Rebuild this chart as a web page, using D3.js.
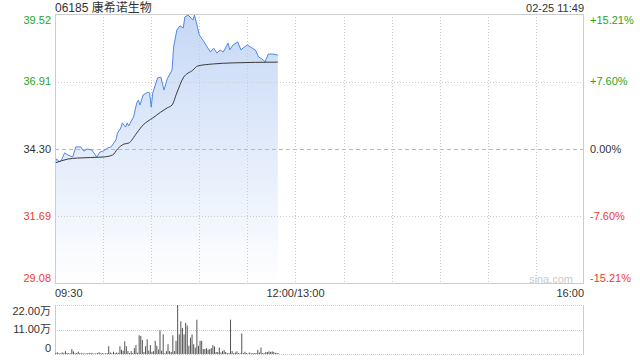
<!DOCTYPE html>
<html>
<head>
<meta charset="utf-8">
<script src="https://cdn.jsdelivr.net/npm/d3@7"></script>
<style>
  body { margin: 0; background: #fff; }
  svg { display: block; font-family: "Liberation Sans", Arial, "Noto Sans CJK SC", sans-serif; }
</style>
</head>
<body>
<svg width="640" height="360"></svg>
<script>
// chart values
const title = "06185 康希诺生物";
const stamp = "02-25 11:49";
const priceTicks = [39.52, 36.91, 34.30, 31.69, 29.08];
const pctTicks = ["+15.21%", "+7.60%", "0.00%", "-7.60%", "-15.21%"];
const timeTicks = ["09:30", "12:00/13:00", "16:00"];
const volTicks = [22, 11, 0];
const volTickLabels = ["22.00万", "11.00万", "0"];

const priceTimes = ["09:30","09:31","09:33","09:34","09:36","09:38","09:41","09:43","09:46","09:48",
  "09:50","09:53","09:56","09:58","10:00","10:03","10:05","10:08","10:09","10:11",
  "10:12","10:14","10:15","10:16","10:19","10:21","10:22","10:23","10:25","10:28",
  "10:29","10:30","10:31","10:34","10:36","10:38","10:40","10:43","10:44","10:46",
  "10:48","10:50","10:51","10:53","10:56","10:57","10:59","11:00","11:03","11:05",
  "11:07","11:09","11:11","11:13","11:15","11:18","11:19","11:21","11:24","11:26",
  "11:28","11:30","11:33","11:35","11:37","11:40","11:41","11:43","11:46","11:49"];
const prices = [33.76,33.91,33.80,33.87,34.15,34.07,33.99,34.38,34.38,34.22,
  34.30,34.26,33.99,34.18,34.22,34.34,34.38,34.65,34.92,35.11,
  35.31,35.15,35.31,35.19,35.54,36.08,36.19,36.00,36.39,36.50,
  36.47,35.92,36.47,37.05,37.08,36.58,37.01,37.35,38.24,38.90,
  39.06,38.98,39.40,39.48,39.29,39.48,38.98,38.71,38.44,38.24,
  38.05,38.20,38.01,38.13,38.05,38.40,38.13,38.32,38.44,38.13,
  38.24,38.32,38.20,38.13,37.86,37.74,37.66,37.97,37.97,37.93];

const avgTimes = ["09:30","09:38","09:44","10:00","10:06","10:09","10:13","10:16","10:21","10:25",
  "10:28","10:31","10:36","10:40","10:43","10:46","10:50","10:56","10:59","11:09","11:21","11:49"];
const avgPrices = [33.76,33.91,33.95,33.99,34.07,34.30,34.49,34.53,34.92,35.23,
  35.38,35.50,35.73,35.89,36.00,36.47,37.05,37.35,37.51,37.59,37.63,37.66];

// volume per minute from 09:30, in 万
const volumes = [0.5,0.7,0.3,0.3,0.7,0.5,1.3,0.4,0.4,0.3,
  2.2,1.2,0.3,0.5,1.0,0.4,0.3,0.3,0.2,0.3,
  0.4,0.3,0.5,0.3,0.2,0.3,0.4,0.8,0.3,0.4,
  0.2,0.3,0.4,3.5,0.7,0.3,1.0,0.4,0.7,0.5,
  3.5,1.9,1.5,5.7,3.5,1.3,0.4,1.3,0.5,2.6,
  4.0,0.6,8.4,8.1,6.3,0.9,3.5,6.6,1.5,4.0,
  1.0,1.3,5.9,3.7,2.0,10.7,1.5,8.8,0.4,1.3,
  4.4,1.3,0.9,8.4,1.3,5.9,22.0,8.8,14.7,11.7,
  8.8,14.0,12.8,3.7,7.3,8.8,4.4,2.9,15.4,3.7,
  5.9,5.9,2.2,2.2,2.6,2.0,2.2,2.6,4.0,3.4,
  0.9,0.9,2.9,0.7,1.3,1.8,0.9,0.4,0.4,15.4,
  1.3,0.4,0.7,1.2,0.4,0.3,9.2,0.4,1.0,0.4,
  0.3,0.7,0.3,0.4,0.4,0.4,1.9,0.7,2.9,0.4,
  0.4,0.9,0.9,1.2,0.9,1.2,0.9,0.5,0.5,0.3];

const green = "#1ea61e", red = "#f03a32", textColor = "#333";

// session minutes: 09:30-12:00 then 13:00-16:00
function sessionMin(s) {
  const [h, m] = s.split("/")[0].split(":").map(Number);
  let t = h * 60 + m - 570;
  if (t > 150) t -= 60;
  return t;
}

const svg = d3.select("svg");
const plotL = 55, plotR = 584, plotT = 14, plotB = 284;
const volTop = 305, volBottom = 354;

const x = d3.scaleLinear().domain([0, 330]).range([plotL, plotR]);
const y = d3.scaleLinear().domain([priceTicks[4], priceTicks[0]]).range([plotB, plotT]);
const yv = d3.scaleLinear().domain([0, 22]).range([volBottom, volTop]);

const defs = svg.append("defs");
const grad = defs.append("linearGradient").attr("id", "fill")
  .attr("gradientUnits", "userSpaceOnUse").attr("x1", 0).attr("y1", plotT).attr("x2", 0).attr("y2", plotB);
grad.append("stop").attr("offset", "0%").attr("stop-color", "#c6d8f6");
grad.append("stop").attr("offset", "100%").attr("stop-color", "#ffffff");

// price area (under grid)
const pts = priceTimes.map((t, i) => [sessionMin(t), prices[i]]);
svg.append("path").datum(pts)
  .attr("d", d3.area().x(d => x(d[0])).y0(plotB).y1(d => y(d[1])))
  .attr("fill", "url(#fill)");

// grid
const gridMins = d3.range(30, 330, 30);
svg.selectAll(".vgrid").data(gridMins).enter().append("line")
  .attr("x1", d => Math.round(x(d)) + 0.5).attr("x2", d => Math.round(x(d)) + 0.5)
  .attr("y1", plotT).attr("y2", plotB)
  .attr("stroke", "#ccc").attr("stroke-dasharray", "1,2");
svg.selectAll(".hgrid").data(priceTicks.slice(1, 4)).enter().append("line")
  .attr("x1", plotL).attr("x2", plotR)
  .attr("y1", d => Math.round(y(d)) + 0.5).attr("y2", d => Math.round(y(d)) + 0.5)
  .attr("stroke", (d, i) => i == 1 ? "#bbb" : "#ccc")
  .attr("stroke-dasharray", (d, i) => i == 1 ? "4,3" : "1,2");

// price + average lines
svg.append("path").datum(pts)
  .attr("d", d3.line().x(d => x(d[0])).y(d => y(d[1])))
  .attr("fill", "none").attr("stroke", "#4f88e6").attr("stroke-width", 1);
const avgPts = avgTimes.map((t, i) => [sessionMin(t), avgPrices[i]]);
svg.append("path").datum(avgPts)
  .attr("d", d3.line().curve(d3.curveMonotoneX).x(d => x(d[0])).y(d => y(d[1])))
  .attr("fill", "none").attr("stroke", "#3a3a3a").attr("stroke-width", 1);

// border
svg.append("rect").attr("x", plotL + 0.5).attr("y", plotT + 0.5)
  .attr("width", plotR - plotL - 1).attr("height", plotB - plotT - 1)
  .attr("fill", "none").attr("stroke", "#ccc");

// price labels
svg.selectAll(".pl").data(priceTicks).enter().append("text")
  .attr("x", 51).attr("y", (d, i) => y(d) + (i == 0 ? 6 : i == 4 ? -6 : 0)).attr("dy", "0.35em")
  .attr("text-anchor", "end").style("font-size", "11px")
  .attr("fill", (d, i) => i < 2 ? green : i == 2 ? textColor : red)
  .text(d => d.toFixed(2));
svg.selectAll(".pc").data(pctTicks).enter().append("text")
  .attr("x", 590).attr("y", (d, i) => y(priceTicks[i]) + (i == 0 ? 6 : i == 4 ? -6 : 0)).attr("dy", "0.35em")
  .style("font-size", "11px")
  .attr("fill", (d, i) => i < 2 ? green : i == 2 ? textColor : red)
  .text(d => d);

// titles
svg.append("text").attr("x", plotL).attr("y", 12).text(title).style("font-size", "12px").attr("fill", textColor);
svg.append("text").attr("x", plotR).attr("y", 12).attr("text-anchor", "end").text(stamp).style("font-size", "11px").attr("fill", textColor);
svg.append("text").attr("x", 573).attr("y", 283).attr("text-anchor", "end").text("sina.com").style("font-size", "11px").attr("fill", "#ccc");

// time labels
svg.selectAll(".tl").data(timeTicks).enter().append("text")
  .attr("x", d => x(sessionMin(d))).attr("y", 297)
  .attr("text-anchor", (d, i) => ["start", "middle", "end"][i])
  .style("font-size", "11px").attr("fill", textColor)
  .text(d => d);

// volume panel
svg.selectAll(".vg").data(volTicks).enter().append("line")
  .attr("x1", plotL).attr("x2", plotR)
  .attr("y1", d => Math.round(yv(d)) + 0.5).attr("y2", d => Math.round(yv(d)) + 0.5)
  .attr("stroke", "#ccc").attr("stroke-dasharray", "1,1");
svg.append("line").attr("x1", plotL + 0.5).attr("x2", plotL + 0.5).attr("y1", volTop).attr("y2", volBottom + 1).attr("stroke", "#ccc");
svg.append("line").attr("x1", plotR - 0.5).attr("x2", plotR - 0.5).attr("y1", volTop).attr("y2", volBottom + 1).attr("stroke", "#ccc");

svg.selectAll(".vb").data(volumes).enter().append("rect")
  .attr("x", (d, i) => x(i + 0.5) - 0.5).attr("width", 1)
  .attr("y", d => yv(d)).attr("height", d => volBottom - yv(d))
  .attr("fill", "#555");

svg.selectAll(".vl").data(volTicks).enter().append("text")
  .attr("x", 51).attr("y", (d, i) => [311, 329, 348][i]).attr("dy", "0.35em")
  .attr("text-anchor", "end").style("font-size", "11px").attr("fill", textColor)
  .text((d, i) => volTickLabels[i]);
</script>
</body>
</html>
